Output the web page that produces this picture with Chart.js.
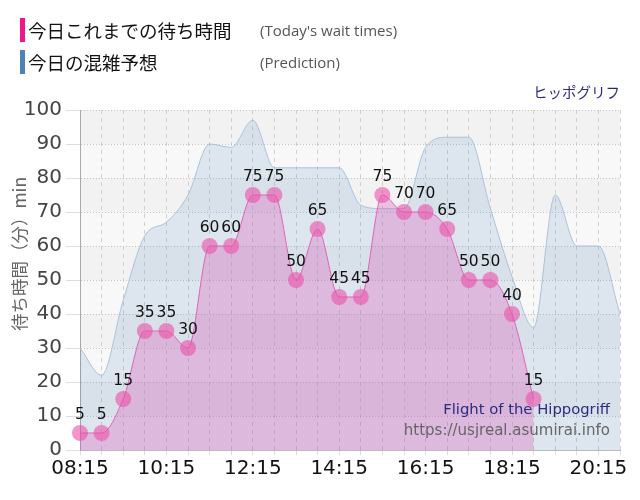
<!DOCTYPE html>
<html>
<head>
<meta charset="utf-8">
<script src="https://cdn.jsdelivr.net/npm/chart.js@4.4.1/dist/chart.umd.min.js"></script>
<style>
    body { margin: 0; background: #fff; }
    #wrap { position: relative; width: 640px; height: 500px; }
    #chart { position: absolute; left: 0; top: 0; }
    .leg { position: absolute; left: 20px; height: 24px; white-space: nowrap; }
    .leg .bar { position: absolute; left: 0; top: 0; width: 5px; height: 24px; }
    .leg .jp { position: absolute; left: 8px; top: -1px; font: 18.5px "Noto Sans CJK JP"; color: #111; }
    .leg .en { position: absolute; left: 240px; top: 2px; font: 15px "Open Sans"; color: #555; }
</style>
</head>
<body>
<div id="wrap">
    <canvas id="chart" width="640" height="500"></canvas>
    <div class="leg" style="top:18px"><div class="bar" style="background:#f0168c"></div><span class="jp">今日これまでの待ち時間</span><span class="en">(Today's wait times)</span></div>
    <div class="leg" style="top:50px"><div class="bar" style="background:#4a84b6"></div><span class="jp">今日の混雑予想</span><span class="en">(Prediction)</span></div>
</div>
<script>
    const timeLabels = ['08:15', '08:45', '09:15', '09:45', '10:15', '10:45', '11:15', '11:45', '12:15', '12:45',
        '13:15', '13:45', '14:15', '14:45', '15:15', '15:45', '16:15', '16:45', '17:15', '17:45',
        '18:15', '18:45', '19:15', '19:45', '20:15', '20:45'];
    const waitTimes = [5, 5, 15, 35, 35, 30, 60, 60, 75, 75, 50, 65, 45, 45, 75, 70, 70, 65, 50, 50, 40, 15,
        null, null, null, null];
    const prediction = [30, 22, 44, 63, 67, 75, 90, 89, 97, 83, 83, 83, 83, 72, 71, 71, 89, 92, 92, 71,
        51, 36, 75, 60, 60, 40];
    const yTicks = [0, 10, 20, 30, 40, 50, 60, 70, 80, 90, 100];

    // striped plot background, drawn before the grid
    const bandPlugin = {
        id: 'bands',
        beforeDraw(chart) {
            const { ctx, chartArea, scales } = chart;
            const y = scales.y;
            ctx.save();
            for (let i = 0; i < yTicks.length - 1; i++) {
                const top = y.getPixelForValue(yTicks[i + 1]);
                const bottom = y.getPixelForValue(yTicks[i]);
                ctx.fillStyle = i % 2 === 1 ? '#f2f2f2' : '#f8f8f8';
                ctx.fillRect(chartArea.left, top, chartArea.right - chartArea.left, bottom - top);
            }
            ctx.restore();
        },
    };

    // value labels above the wait time points, axis title, credits
    const textPlugin = {
        id: 'texts',
        afterDatasetsDraw(chart) {
            const { ctx, chartArea } = chart;
            const meta = chart.getDatasetMeta(0);
            ctx.save();
            ctx.font = '15.5px "DejaVu Sans"';
            ctx.fillStyle = '#111';
            ctx.textAlign = 'center';
            ctx.textBaseline = 'bottom';
            meta.data.forEach((pt, i) => {
                if (waitTimes[i] == null) return;
                ctx.fillText(String(waitTimes[i]), pt.x, pt.y - 10);
            });

            ctx.textAlign = 'right';
            ctx.textBaseline = 'middle';
            ctx.font = '14.8px "DejaVu Sans"';
            ctx.fillStyle = '#2b2b80';
            ctx.fillText('Flight of the Hippogriff', 610, 410);
            ctx.font = '15px "DejaVu Sans"';
            ctx.fillStyle = '#666';
            ctx.fillText('https://usjreal.asumirai.info', 610, 431);
            ctx.font = '14.5px "Noto Sans CJK JP"';
            ctx.fillStyle = '#2b2b7a';
            ctx.fillText('ヒッポグリフ', chartArea.right, 92);

            // rotated y axis title
            ctx.translate(19, 254);
            ctx.rotate(-Math.PI / 2);
            ctx.textAlign = 'center';
            ctx.font = '17.5px "Noto Sans CJK JP"';
            ctx.fillStyle = '#666';
            ctx.fillText('待ち時間（分）min', 0, 0);
            ctx.restore();
        },
    };

    const ctx = document.getElementById('chart').getContext('2d');
    new Chart(ctx, {
        type: 'line',
        data: {
            labels: timeLabels,
            datasets: [
                {
                    label: '今日これまでの待ち時間',
                    data: waitTimes,
                    borderColor: '#e064b4',
                    borderWidth: 1,
                    backgroundColor: 'rgba(220, 100, 190, 0.35)',
                    fill: 'origin',
                    cubicInterpolationMode: 'monotone',
                    pointRadius: 8,
                    pointBorderWidth: 0,
                    pointBackgroundColor: 'rgba(236, 80, 170, 0.6)',
                    spanGaps: false,
                },
                {
                    label: '今日の混雑予想',
                    data: prediction,
                    borderColor: '#a9c3da',
                    borderWidth: 1,
                    backgroundColor: 'rgba(70, 130, 180, 0.15)',
                    fill: 'origin',
                    cubicInterpolationMode: 'monotone',
                    pointRadius: 0,
                },
            ],
        },
        options: {
            responsive: false,
            animation: false,
            layout: { padding: { top: 110, right: 20, left: 0, bottom: 0 } },
            plugins: {
                legend: { display: false },
                tooltip: { enabled: false },
            },
            scales: {
                x: {
                    offset: false,
                    grid: { color: '#d0d0d0', tickLength: 5, tickColor: '#ddd' },
                    border: { color: '#bbb', dash: [4, 4] },
                    ticks: {
                        autoSkip: false,
                        maxRotation: 0,
                        padding: 2,
                        color: '#111',
                        font: { family: 'DejaVu Sans', size: 20 },
                        callback: (v, i) => (i % 4 === 0 ? timeLabels[i] : ''),
                    },
                    afterFit: s => { s.height = 50; },
                },
                y: {
                    min: 0,
                    max: 100,
                    ticks: {
                        stepSize: 10,
                        color: '#444',
                        padding: 4,
                        font: { family: 'DejaVu Sans', size: 20 },
                    },
                    grid: { color: '#c4c4c4', tickLength: 14, tickColor: '#ddd' },
                    border: { color: '#aaa', dash: [1, 2] },
                    afterFit: s => { s.width = 80; },
                },
            },
        },
        plugins: [bandPlugin, textPlugin],
    });
</script>
</body>
</html>
